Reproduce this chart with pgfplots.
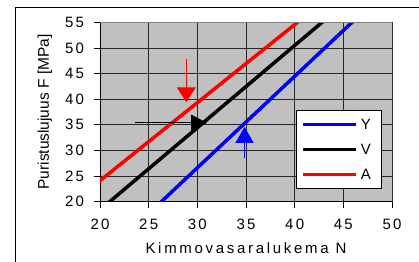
\documentclass[border=0pt]{standalone}
\usepackage{fontspec}
\setmainfont{Liberation Sans}
\newfontfamily\tickfont{Liberation Sans}[LetterSpace=15]
\newfontfamily\xlabfont{Liberation Sans}[LetterSpace=18]
\usepackage{pgfplots}
\pgfplotsset{compat=1.18}
\usetikzlibrary{arrows.meta}
\definecolor{plotbg}{HTML}{C0C0C0}
\definecolor{lineblue}{HTML}{0000FF}
\definecolor{linered}{HTML}{FF0000}
\begin{document}
\begin{tikzpicture}
\useasboundingbox (0,0) rectangle (419bp,262bp);
\draw[black, line width=0.8bp] (15bp,-10bp) -- (15bp,255bp) -- (430bp,255bp);
\begin{axis}[
  at={(100bp,60.3bp)}, anchor=south west,
  scale only axis, width=292bp, height=179.4bp,
  xmin=20, xmax=50, ymin=20, ymax=55,
  xtick={20,25,...,50}, ytick={20,25,...,55},
  axis x line*=bottom, axis y line*=left,
  axis line style={black, line width=0.9bp, -},
  axis background/.style={fill=plotbg},
  grid=major, major grid style={black!85, line width=0.7bp},
  tick align=outside, major tick length=6bp,
  tick style={black, line width=0.8bp},
  /pgf/number format/assume math mode=true,
  ticklabel style={font=\tickfont\fontsize{15bp}{17bp}\selectfont},
  xticklabel style={yshift=-8bp},
  yticklabel style={xshift=-6.5bp},
  xlabel={Kimmovasaralukema N},
  ylabel={Puristuslujuus F [MPa]},
  every axis x label/.style={at={([yshift=-41bp]axis description cs:0.5,0)}, anchor=north, inner sep=0pt, font=\xlabfont\fontsize{15bp}{18bp}\selectfont},
  every axis y label/.style={at={([xshift=-51bp]axis description cs:0,0.5)}, rotate=90, anchor=base, inner sep=0pt, font=\fontsize{15.5bp}{18bp}\selectfont},
  legend style={at={(axis description cs:0.671,0.511)}, anchor=north west, draw=black, line width=0.8bp, fill=white, font=\fontsize{15bp}{18bp}\selectfont, inner xsep=5bp, inner ysep=8.5bp, row sep=14bp, column sep=3bp, nodes={inner sep=0pt, text height=11bp, text depth=0pt}},
  legend image code/.code={\draw[#1, line width=3.5bp] (0bp,0bp) -- (53bp,0bp);},
  legend cell align=left,
]
\addplot[lineblue, line width=3.5bp] coordinates {(25,17.68) (47,56.97)};
\addlegendentry{Y\hspace*{6bp}}
\addplot[black, line width=3.5bp] coordinates {(20,18.4) (44,56.9)};
\addlegendentry{V}
\addplot[linered, line width=3.5bp] coordinates {(19,22.58) (41,56.07)};
\addlegendentry{A}
\addplot[linered, line width=1.2bp, -{Triangle[width=19bp,length=15bp]}, forget plot] coordinates {(28.87,47.8) (28.87,39.4)};
\addplot[black, line width=1.2bp, -{Triangle[width=16bp,length=16bp]}, forget plot] coordinates {(23.6,35.4) (31.0,35.4)};
\addplot[lineblue, line width=1.2bp, -{Triangle[width=18bp,length=16bp]}, forget plot] coordinates {(34.85,28.6) (34.85,34.6)};
\draw[gray, line width=0.9bp] (rel axis cs:0,1) -- (rel axis cs:1,1) -- (rel axis cs:1,0);
\end{axis}
\end{tikzpicture}
\end{document}
